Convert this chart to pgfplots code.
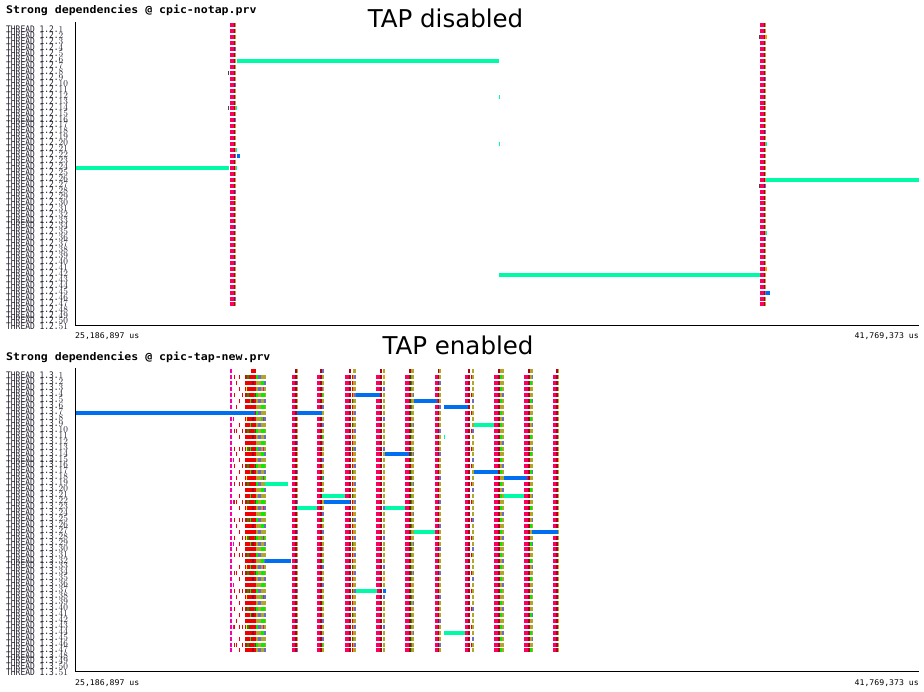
\documentclass[border=0pt]{standalone}
\usepackage{fontspec}
\usepackage{pgfplots}
\pgfplotsset{compat=1.18}
\setmainfont{DejaVu Sans}
\newfontfamily\labfont[FakeStretch=0.88]{DejaVu Sans Mono}
\newfontfamily\axfont[FakeStretch=1.05]{DejaVu Sans Mono}
\newfontfamily\titfont[FakeStretch=1.1]{DejaVu Sans Mono}
\definecolor{pk}{RGB}{250,0,95}
\definecolor{mg}{RGB}{250,0,170}
\definecolor{dr}{RGB}{175,0,25}
\definecolor{rd}{RGB}{240,0,0}
\definecolor{ol}{RGB}{176,166,44}
\definecolor{dg}{RGB}{0,160,0}
\definecolor{bg}{RGB}{0,240,0}
\definecolor{sl}{RGB}{110,110,190}
\definecolor{ye}{RGB}{255,240,0}
\definecolor{og}{RGB}{255,150,0}
\definecolor{mint}{RGB}{0,250,165}
\definecolor{bl}{RGB}{0,110,240}
\definecolor{lab}{RGB}{35,30,45}
\definecolor{dgy}{RGB}{70,70,70}

% segment of one colour from x0 to x1 in rows r0, r0+step, ..., r1
\newcommand\seg[6]{%
  \pgfmathsetmacro\segx{(#2+#3)/2}%
  \pgfmathsetmacro\segw{#3-#2}%
  \pgfmathsetmacro\sega{#4-0.3367}%
  \pgfmathsetmacro\segb{#5+0.3367}%
  \pgfmathsetmacro\sego{#6*5.94-4}%
  \edef\segtmp{\noexpand\addplot[draw=#1, line width=\segw pt, dash pattern=on 4pt off \sego pt, forget plot] coordinates {(\segx,\sega) (\segx,\segb)};}%
  \segtmp}

\pgfplotsset{trace/.style={
  scale only axis, width=844pt, height=302.94pt,
  xmin=75, xmax=919, ymin=0.5, ymax=51.5, y dir=reverse,
  axis line style={draw=none}, xtick=\empty, ytick={1,...,51},
  major tick length=0pt,
  yticklabel style={font=\labfont\fontsize{9}{9}\selectfont, text=lab, anchor=west, inner sep=0pt, xshift=-69pt, yshift=-4.3pt},
  unbounded coords=jump,
}}

\begin{document}
\begin{tikzpicture}[x=1pt,y=1pt]
\useasboundingbox (0,0) rectangle (924,692);

% ---------------- TAP disabled ----------------
\begin{axis}[trace, at={(75pt,366.73pt)}, anchor=south west,
  yticklabel={THREAD 1.2.\pgfmathprintnumber{\tick}}]
\seg{pk}{230}{233.7}{1}{48}{1}
\seg{dr}{233.7}{235}{1}{48}{1}
\seg{ol}{235}{236}{1}{48}{1}
\seg{sl}{235}{236}{5}{47}{6}
\seg{dgy}{228}{228.7}{9}{15}{6}
\seg{mint}{236.3}{237.3}{15}{22}{7}
\seg{pk}{760}{763.5}{1}{48}{1}
\seg{dr}{763.5}{765}{1}{48}{1}
\seg{ol}{765}{766}{1}{48}{1}
\seg{sl}{765}{766}{10}{46}{9}
\seg{dgy}{759}{759.7}{3}{28}{25}
\seg{mint}{766}{767}{21}{36}{15}
\seg{og}{765}{767}{3}{42}{39}
\addplot[mint, line width=4pt] coordinates {
 (75,25) (229,25) (nan,nan)
 (237,7) (499,7) (nan,nan)
 (499,43) (760,43) (nan,nan)
 (766,27) (919,27) (nan,nan)
 (498.5,13) (499.5,13) (nan,nan)
 (498.5,21) (499.5,21) (nan,nan)
 (236.3,25) (237.3,25)};
\addplot[bl, line width=4pt] coordinates {
 (237,23) (240,23) (nan,nan)
 (766,46) (770,46)};
\draw[black, line width=1pt] (axis cs:75.5,0.5) -- (axis cs:75.5,51.5) -- (axis cs:919,51.5);
\end{axis}

% ---------------- TAP enabled ----------------
\begin{axis}[trace, at={(75pt,20.73pt)}, anchor=south west,
  yticklabel={THREAD 1.3.\pgfmathprintnumber{\tick}}]
% group A
\seg{mg}{230}{232}{1}{48}{1}
\seg{rd}{234}{235}{2}{47}{3}
\seg{rd}{236}{237}{3}{47}{4}
\seg{rd}{239}{240}{2}{48}{2}
\seg{rd}{242}{243}{5}{47}{3}
\seg{mg}{233}{234}{9}{44}{7}
\seg{rd}{245}{256}{2}{48}{1}
\seg{rd}{251}{256}{1}{1}{1}
\seg{dg}{247}{249}{2}{48}{3}
\seg{dr}{252}{254}{3}{48}{3}
\seg{ye}{245.5}{246.5}{4}{44}{5}
\seg{bg}{250}{251}{6}{46}{4}
\seg{dg}{253.5}{255}{5}{47}{6}
\seg{ol}{256}{266}{2}{48}{1}
\seg{sl}{258}{261}{2}{48}{2}
\seg{bg}{261}{265}{3}{47}{2}
\seg{mg}{263}{264}{4}{44}{5}
\seg{bg}{256}{258}{2}{47}{3}
\seg{sl}{264}{266}{3}{48}{3}
% B
\seg{pk}{292}{295}{2}{48}{1}
\seg{dr}{295}{296.5}{1}{48}{1}
\seg{ol}{296.5}{298}{1}{48}{1}
\seg{sl}{296.5}{298}{3}{48}{5}
% C
\seg{pk}{317}{320}{2}{48}{1}
\seg{dr}{320}{322}{1}{48}{1}
\seg{ol}{322}{324}{1}{48}{1}
\seg{sl}{322}{324}{1}{46}{3}
\seg{bg}{322}{323}{5}{47}{7}
\seg{og}{323}{324}{4}{40}{9}
% D
\seg{pk}{345}{349}{2}{48}{1}
\seg{dr}{349}{351}{1}{48}{1}
\seg{rd}{352}{353}{2}{48}{1}
\seg{ol}{353}{356}{1}{48}{1}
\seg{sl}{354}{356}{2}{47}{3}
\seg{bg}{353}{354}{6}{46}{4}
% E
\seg{pk}{376}{380}{2}{48}{1}
\seg{dr}{380}{382}{1}{48}{1}
\seg{ol}{383}{385}{1}{48}{1}
\seg{sl}{383}{385}{4}{44}{5}
\seg{og}{383}{385}{2}{36}{17}
% F
\seg{pk}{405}{409}{2}{48}{1}
\seg{dr}{409}{410.5}{1}{48}{1}
\seg{ol}{410.5}{414}{1}{48}{1}
\seg{bg}{410.5}{412}{2}{48}{2}
\seg{dg}{410.5}{412}{3}{47}{4}
\seg{sl}{412.5}{414}{5}{45}{5}
% G
\seg{pk}{435}{438}{2}{48}{1}
\seg{dr}{438}{439.3}{1}{48}{1}
\seg{ol}{439.3}{441}{1}{48}{1}
\seg{sl}{439.3}{441}{3}{47}{4}
% H
\seg{pk}{465}{468}{2}{48}{1}
\seg{dr}{468}{470}{1}{48}{1}
\seg{rd}{470.5}{471.5}{2}{47}{3}
\seg{ol}{472}{474}{1}{48}{1}
\seg{sl}{472}{474}{6}{46}{5}
% I
\seg{pk}{494}{498}{2}{48}{1}
\seg{dr}{498}{500}{1}{48}{1}
\seg{ol}{500}{504}{1}{48}{1}
\seg{bg}{500}{502}{2}{48}{2}
\seg{sl}{502}{504}{5}{45}{4}
% J
\seg{pk}{524}{528}{2}{48}{1}
\seg{dr}{528}{530}{1}{48}{1}
\seg{ol}{530}{533}{1}{48}{1}
\seg{bg}{530}{531.5}{3}{48}{3}
\seg{sl}{531.5}{533}{2}{46}{4}
% K
\seg{pk}{553}{556}{2}{48}{1}
\seg{dr}{556}{557.5}{1}{48}{1}
\seg{ol}{557.5}{559}{1}{48}{1}
\seg{og}{557.5}{559}{7}{43}{9}
% long dependencies
\addplot[bl, line width=4pt] coordinates {
 (75,8) (255,8) (nan,nan)
 (297,8) (322,8) (nan,nan)
 (356,5) (380,5) (nan,nan)
 (414,6) (437,6) (nan,nan)
 (444,7) (468,7) (nan,nan)
 (385,15) (409,15) (nan,nan)
 (474,18) (498,18) (nan,nan)
 (504,19) (527,19) (nan,nan)
 (324,23) (350,23) (nan,nan)
 (532,28) (558,28) (nan,nan)
 (265,33) (291,33) (nan,nan)
 (383,38) (386,38)};
\addplot[mint, line width=4pt] coordinates {
 (474,10) (494,10) (nan,nan)
 (443.5,12) (445,12) (nan,nan)
 (265,20) (288,20) (nan,nan)
 (322,22) (345,22) (nan,nan)
 (504,22) (524,22) (nan,nan)
 (297,24) (317,24) (nan,nan)
 (385,24) (405,24) (nan,nan)
 (414,28) (435,28) (nan,nan)
 (356,38) (377,38) (nan,nan)
 (444,45) (465,45)};
\draw[black, line width=1pt] (axis cs:75.5,0.5) -- (axis cs:75.5,51.5) -- (axis cs:919,51.5);
\end{axis}

% titles and time labels
\node[anchor=base west, inner sep=0pt] at (6,678) {\titfont\bfseries\fontsize{10.5}{10.5}\selectfont Strong dependencies @ cpic-notap.prv};
\node[anchor=base west, inner sep=0pt] at (6,331.3) {\titfont\bfseries\fontsize{10.5}{10.5}\selectfont Strong dependencies @ cpic-tap-new.prv};
\node[anchor=base, inner sep=0pt] at (445.5,664) {\fontsize{24.5}{24.5}\selectfont TAP disabled};
\node[anchor=base, inner sep=0pt] at (458,337) {\fontsize{24.5}{24.5}\selectfont TAP enabled};
\node[anchor=base west, inner sep=0pt] at (75,353) {\axfont\fontsize{7.8}{7.8}\selectfont 25,186,897 us};
\node[anchor=base east, inner sep=0pt] at (919,353) {\axfont\fontsize{7.8}{7.8}\selectfont 41,769,373 us};
\node[anchor=base west, inner sep=0pt] at (75,6) {\axfont\fontsize{7.8}{7.8}\selectfont 25,186,897 us};
\node[anchor=base east, inner sep=0pt] at (919,6) {\axfont\fontsize{7.8}{7.8}\selectfont 41,769,373 us};
\end{tikzpicture}
\end{document}
